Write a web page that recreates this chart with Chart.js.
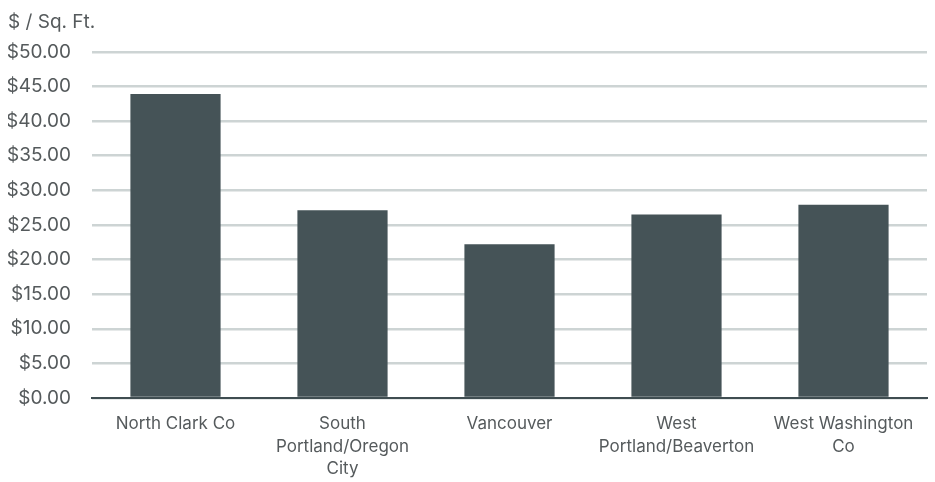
<!DOCTYPE html>
<html>
<head>
<meta charset="utf-8">
<script src="https://cdn.jsdelivr.net/npm/chart.js@4"></script>
<style>
  html, body { margin: 0; padding: 0; background: #fff; }
  #wrap { width: 935px; height: 482px; }
</style>
</head>
<body>
<div id="wrap"><canvas id="barChart"></canvas></div>
<script>
const categories = [
  "North Clark Co",
  ["South", "Portland/Oregon", "City"],
  "Vancouver",
  ["West", "Portland/Beaverton"],
  ["West Washington", "Co"],
];
const rentValues = [43.9, 27.1, 22.2, 26.5, 27.9];
const yTicks = [0, 5, 10, 15, 20, 25, 30, 35, 40, 45, 50];

document.addEventListener("DOMContentLoaded", function () {
  const ctx = document.getElementById("barChart").getContext("2d");
  const textColor = "#555a5c";

  new Chart(ctx, {
    type: "bar",
    data: {
      labels: categories,
      datasets: [
        {
          label: "$ / Sq. Ft.",
          data: rentValues,
          backgroundColor: "#455357",
          borderWidth: 0,
          barPercentage: 0.54,
          categoryPercentage: 1,
        },
      ],
    },
    options: {
      responsive: true,
      maintainAspectRatio: false,
      animation: false,
      layout: { padding: { left: 8, right: 8, top: 0, bottom: 0 } },
      plugins: {
        legend: { display: false },
        tooltip: { enabled: false },
        title: {
          display: true,
          text: "$ / Sq. Ft.",
          align: "start",
          color: textColor,
          font: { family: "Inter", size: 19, weight: "normal" },
          padding: { top: 11, bottom: 18 },
        },
      },
      scales: {
        x: {
          afterFit: (axis) => {
            axis.height = 84;
          },
          grid: { display: false, drawTicks: false },
          border: { display: true, color: "#3f4d51", width: 2 },
          ticks: {
            color: textColor,
            font: { family: "Inter", size: 17, lineHeight: 1.35 },
            padding: 14,
            maxRotation: 0,
            autoSkip: false,
          },
        },
        y: {
          min: 0,
          max: 50,
          afterBuildTicks: (axis) => {
            axis.ticks = yTicks.map((v) => ({ value: v }));
          },
          afterFit: (axis) => {
            axis.width = 84;
          },
          grid: { color: "#cdd4d4", lineWidth: 2.5, drawTicks: false },
          border: { display: false },
          ticks: {
            color: textColor,
            font: { family: "Inter", size: 19 },
            padding: 21,
            callback: (v) => "$" + Number(v).toFixed(2),
          },
        },
      },
    },
  });
});
</script>
</body>
</html>
